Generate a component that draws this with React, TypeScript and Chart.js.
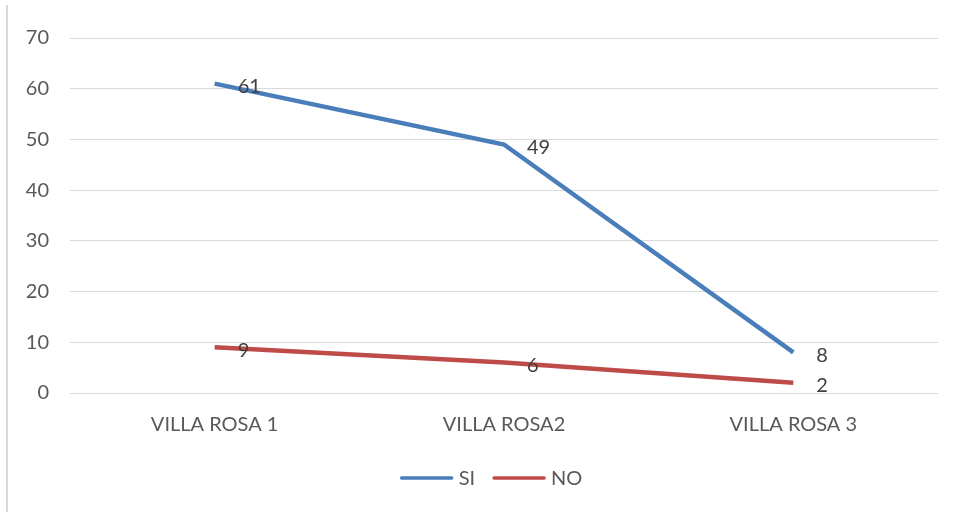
import React, { useEffect, useRef } from "react";
import { Chart, registerables } from "chart.js";

Chart.register(...registerables);

const categories = ["VILLA ROSA 1", "VILLA ROSA2", "VILLA ROSA 3"];
const siValues = [61, 49, 8];
const noValues = [9, 6, 2];
const seriesNames = ["SI", "NO"];
const seriesColors = ["#4A7EBB", "#BE4B48"];
const yMin = 0;
const yMax = 70;
const yStep = 10;

const FONT_FAMILY = "Lato, 'Open Sans', sans-serif";
const FONT_SIZE = 20;
const TEXT_COLOR = "#595959";

const dataLabelPlugin = {
  id: "dataLabels",
  afterDatasetsDraw(chart: any) {
    const ctx = chart.ctx;
    ctx.save();
    ctx.font = `${FONT_SIZE}px ${FONT_FAMILY}`;
    ctx.fillStyle = "#404040";
    ctx.textAlign = "left";
    ctx.textBaseline = "middle";
    chart.data.datasets.forEach((ds: any, i: number) => {
      const meta = chart.getDatasetMeta(i);
      meta.data.forEach((pt: any, j: number) => {
        ctx.fillText(String(ds.data[j]), pt.x + 23, pt.y + 3);
      });
    });
    ctx.restore();
  },
};

const legendPlugin = {
  id: "customLegend",
  afterDraw(chart: any) {
    const ctx = chart.ctx;
    ctx.save();
    ctx.font = `${FONT_SIZE}px ${FONT_FAMILY}`;
    const lineLen = 54;
    const gapText = 5;
    const gapItem = 17;
    const items = chart.data.datasets.map((ds: any) => ({
      label: ds.label,
      color: ds.borderColor,
      w: ctx.measureText(ds.label).width,
    }));
    let total = 0;
    items.forEach((it: any, i: number) => {
      total += lineLen + gapText + it.w + (i < items.length - 1 ? gapItem : 0);
    });
    const cx = chart.width / 2 + 13;
    let x = cx - total / 2;
    const y = 478;
    items.forEach((it: any) => {
      ctx.strokeStyle = it.color;
      ctx.lineWidth = 3.5;
      ctx.lineCap = "round";
      ctx.beginPath();
      ctx.moveTo(x + 2, y);
      ctx.lineTo(x + lineLen - 2, y);
      ctx.stroke();
      x += lineLen + gapText;
      ctx.fillStyle = TEXT_COLOR;
      ctx.textAlign = "left";
      ctx.textBaseline = "middle";
      ctx.fillText(it.label, x, y + 1);
      x += it.w + gapItem;
    });
    ctx.restore();
  },
};

export default function App() {
  const canvasRef = useRef<HTMLCanvasElement | null>(null);

  useEffect(() => {
    if (!canvasRef.current) return;
    const chart = new Chart(canvasRef.current, {
      type: "line",
      data: {
        labels: categories,
        datasets: [
          {
            label: seriesNames[0],
            data: siValues,
            borderColor: seriesColors[0],
            backgroundColor: seriesColors[0],
            borderWidth: 4.5,
            pointRadius: 0,
            tension: 0,
          },
          {
            label: seriesNames[1],
            data: noValues,
            borderColor: seriesColors[1],
            backgroundColor: seriesColors[1],
            borderWidth: 4.5,
            pointRadius: 0,
            tension: 0,
          },
        ],
      },
      options: {
        animation: false,
        responsive: false,
        maintainAspectRatio: false,
        layout: { padding: { left: 0, right: 18, top: 38, bottom: 0 } },
        plugins: {
          legend: { display: false },
          tooltip: { enabled: false },
        },
        scales: {
          x: {
            offset: true,
            grid: { display: false, drawTicks: false },
            border: { display: false },
            ticks: {
              color: TEXT_COLOR,
              font: { family: FONT_FAMILY, size: FONT_SIZE },
              padding: 20,
              maxRotation: 0,
            },
            afterFit(scale: any) {
              scale.height = 119;
            },
          },
          y: {
            min: yMin,
            max: yMax,
            grid: { color: "#D9D9D9", lineWidth: 1, drawTicks: false },
            border: { display: false },
            ticks: {
              stepSize: yStep,
              color: TEXT_COLOR,
              font: { family: FONT_FAMILY, size: FONT_SIZE },
              padding: 21,
            },
            afterFit(scale: any) {
              scale.width = 70;
            },
          },
        },
      },
      plugins: [dataLabelPlugin, legendPlugin],
    });
    return () => chart.destroy();
  }, []);

  return (
    <div
      style={{
        position: "fixed",
        left: 0,
        top: 0,
        width: 956,
        height: 512,
        background: "#fff",
      }}
    >
      <div
        style={{
          position: "absolute",
          left: 6,
          top: 5,
          bottom: 0,
          width: 2,
          background: "#D9D9D9",
        }}
      />
      <canvas
        ref={canvasRef}
        width={956}
        height={512}
        style={{ position: "absolute", left: 0, top: 0, width: 956, height: 512 }}
      />
    </div>
  );
}
